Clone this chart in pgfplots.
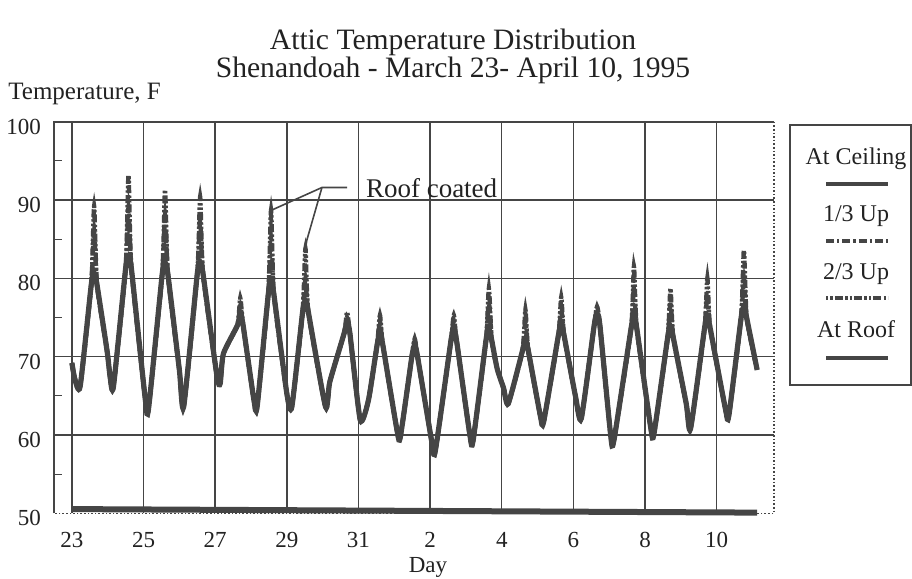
\documentclass[border=0pt]{standalone}
\usepackage{pgfplots}
\pgfplotsset{compat=1.18}
\usepackage{pgfplotstable}
\usepackage{fontspec}
\setmainfont{Liberation Serif}
\definecolor{ink}{HTML}{454545}
\definecolor{txt}{HTML}{222222}

% day: 23 = March 23, 32 = April 1, ...
\pgfplotstableread{
day   roof third twothird
23.00 69.2 69.2 69.2
23.08 67.2 67.2 67.2
23.23 66.2 66.2 66.2
23.54 79.2 79.2 79.2
23.62 80.7 86.0 89.2
23.70 79.2 79.2 79.2
23.98 70.8 70.8 70.8
24.07 67.3 67.3 67.3
24.16 66.2 66.2 66.2
24.50 81.3 81.3 81.3
24.58 82.8 89.0 93.2
24.66 81.3 81.3 81.3
25.05 64.5 64.5 64.5
25.14 63.4 63.4 63.4
25.52 80.5 80.5 80.5
25.60 82.0 88.0 91.3
25.68 80.5 80.5 80.5
26.00 68.3 68.3 68.3
26.12 63.6 63.6 63.6
26.50 80.6 80.6 80.6
26.58 82.1 87.5 90.4
26.66 80.6 80.6 80.6
27.05 67.5 67.5 67.5
27.14 66.6 66.6 66.6
27.23 70.4 70.4 70.4
27.62 74.0 74.0 74.0
27.70 75.5 76.5 77.5
27.78 74.0 74.0 74.0
28.08 64.5 64.5 64.5
28.17 63.6 63.6 63.6
28.48 77.9 77.9 77.9
28.56 79.4 85.0 88.7
28.64 77.9 77.9 77.9
29.00 65.3 65.3 65.3
29.14 63.6 63.6 63.6
29.44 75.7 75.7 75.7
29.52 77.2 80.0 83.8
29.60 75.7 75.7 75.7
30.08 63.6 63.6 63.6
30.20 66.8 66.8 66.8
30.60 73.0 73.0 73.0
30.68 74.5 75.0 75.7
30.76 73.0 73.0 73.0
31.05 61.9 61.9 61.9
31.28 64.5 64.5 64.5
31.52 71.5 71.5 71.5
31.60 73.0 74.5 75.3
31.68 71.5 71.5 71.5
32.08 60.5 60.5 60.5
32.17 59.8 59.8 59.8
32.49 70.0 70.0 70.0
32.57 71.5 72.0 72.3
32.65 70.0 70.0 70.0
33.06 58.8 58.8 58.8
33.15 58.1 58.1 58.1
33.58 72.0 72.0 72.0
33.66 73.5 74.5 75.3
33.74 72.0 72.0 72.0
34.11 60.0 60.0 60.0
34.20 59.3 59.3 59.3
34.56 72.1 72.1 72.1
34.64 73.6 77.0 78.7
34.72 72.1 72.1 72.1
34.87 68.5 68.5 68.5
35.05 66.0 66.0 66.0
35.18 64.0 64.0 64.0
35.58 70.8 70.8 70.8
35.66 72.3 74.5 76.0
35.74 70.8 70.8 70.8
36.08 62.4 62.4 62.4
36.17 61.7 61.7 61.7
36.58 72.7 72.7 72.7
36.66 74.2 76.0 77.6
36.74 72.7 72.7 72.7
37.06 64.9 64.9 64.9
37.22 62.1 62.1 62.1
37.58 74.0 74.0 74.0
37.66 75.5 76.0 76.4
37.74 74.0 74.0 74.0
38.04 60.0 60.0 60.0
38.13 59.3 59.3 59.3
38.61 73.6 73.6 73.6
38.69 75.1 79.0 81.5
38.77 73.6 73.6 73.6
39.16 60.9 60.9 60.9
39.25 60.2 60.2 60.2
39.63 72.4 72.4 72.4
39.71 73.9 77.0 78.7
39.79 72.4 72.4 72.4
40.15 64.0 64.0 64.0
40.27 60.8 60.8 60.8
40.66 73.6 73.6 73.6
40.74 75.1 78.0 80.0
40.82 73.6 73.6 73.6
41.25 63.2 63.2 63.2
41.34 62.5 62.5 62.5
41.68 74.9 74.9 74.9
41.76 76.4 80.0 83.6
41.84 74.9 74.9 74.9
42.13 68.3 68.3 68.3
}\attic

\tikzset{
  dashdot/.style={dash pattern=on 4pt off 1.5pt on 1.2pt off 1.5pt},
  dashdotdot/.style={dash pattern=on 1.2pt off 1pt on 1.2pt off 1pt on 4pt off 1.2pt},
}

\begin{document}
\begin{tikzpicture}
\path[use as bounding box] (-27pt,-32.8pt) rectangle (429pt,256.7pt);
\begin{axis}[
  scale only axis,
  width=360pt, height=195.85pt,
  xmin=22.5, xmax=42.6, ymin=50, ymax=100,
  xtick={23,25,...,41},
  xticklabels={23,25,27,29,31,2,4,6,8,10},
  ytick={60,70,80,90},
  extra y ticks={50,100},
  extra y tick style={grid=none},
  minor ytick={55,65,...,95},
  xtick pos=bottom, ytick pos=left,
  tick align=inside,
  major tick length=0pt, minor tick length=4pt,
  minor tick style={ink, line width=0.6pt},
  grid=major,
  major grid style={ink, line width=0.7pt},
  axis line style={draw=none},
  ticklabel style={font=\fontsize{11.5}{13}\selectfont, text=txt},
  /pgf/number format/assume math mode=true,
  xticklabel style={yshift=-6pt},
  yticklabel style={xshift=-3pt, yshift=-2.5pt},
  clip=false,
]
\addplot[ink, line width=2.2pt, dashdotdot, smooth, tension=0.35] table[x=day, y=twothird] {\attic};
\addplot[ink, line width=2.2pt, dashdot, smooth, tension=0.35] table[x=day, y=third] {\attic};
\addplot[ink, line width=2.6pt, smooth, tension=0.35] table[x=day, y=roof] {\attic};
% At Ceiling
\addplot[ink, line width=3pt] coordinates {(23.0,50.55) (42.13,50.1)};

\draw[ink, line width=0.8pt] (rel axis cs:0,0) -- (rel axis cs:0,1) -- (rel axis cs:1,1);
\draw[ink, line width=0.8pt, densely dotted] (rel axis cs:1,1) -- (rel axis cs:1,0) -- (rel axis cs:0,0);

% annotation
\draw[ink, line width=0.8pt] (axis cs:30.68,91.6) -- (axis cs:29.98,91.6) -- (axis cs:28.57,88.7);
\draw[ink, line width=0.8pt] (axis cs:29.98,91.6) -- (axis cs:29.56,84.9) -- (axis cs:29.52,83.8);
\node[anchor=base west, inner sep=0, text=txt, font=\fontsize{13.5}{15}\selectfont] at (axis cs:31.2,90.3) {Roof coated};
\end{axis}

% titles and labels
\node[anchor=base, inner sep=0, text=txt, font=\fontsize{14.8}{17}\selectfont] at (199.5pt,231.7pt) {Attic Temperature Distribution};
\node[anchor=base, inner sep=0, text=txt, font=\fontsize{14.8}{17}\selectfont] at (199.5pt,217.7pt) {Shenandoah - March 23- April 10, 1995};
\node[anchor=base west, inner sep=0, text=txt, font=\fontsize{12.5}{14}\selectfont] at (-23pt,206.7pt) {Temperature, F};
\node[anchor=base, inner sep=0, text=txt, font=\fontsize{11.5}{13}\selectfont] at (187pt,-29.3pt) {Day};

% legend
\draw[ink, line width=0.8pt] (368pt,64.2pt) rectangle (428.5pt,194.2pt);
\begin{scope}[every node/.style={anchor=base, inner sep=0, text=txt, font=\fontsize{12}{14}\selectfont}]
\node at (401pt,174.5pt) {At Ceiling};
\node at (401pt,146pt) {1/3 Up};
\node at (401pt,117pt) {2/3 Up};
\node at (401pt,88pt) {At Roof};
\end{scope}
\draw[ink, line width=1.8pt] (386pt,164.7pt) -- (417pt,164.7pt);
\draw[ink, line width=1.8pt, dashdot] (386pt,136.2pt) -- (417pt,136.2pt);
\draw[ink, line width=1.8pt, dashdotdot] (386pt,107.7pt) -- (417pt,107.7pt);
\draw[ink, line width=1.8pt] (386pt,77.7pt) -- (417pt,77.7pt);
\end{tikzpicture}
\end{document}
